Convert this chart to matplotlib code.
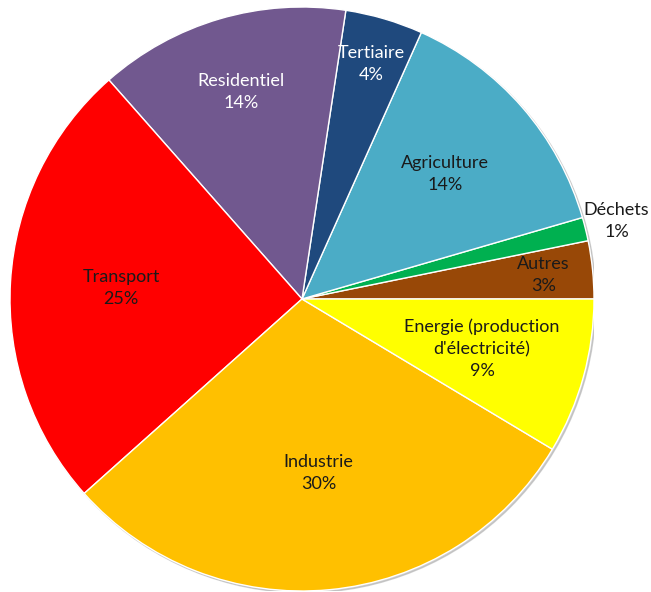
import matplotlib
matplotlib.use("Agg")
import matplotlib.pyplot as plt
import numpy as np

# Sectors, counter-clockwise from 3 o'clock
SECTORS = ["Autres", "Déchets", "Agriculture", "Tertiaire", "Residentiel",
           "Transport", "Industrie", "Energie (production\nd'électricité)"]
SHARES = [3.2, 1.3, 13.8, 4.3, 13.9, 25.1, 29.8, 8.6]
COLORS = ["#984807", "#00B050", "#4BACC6", "#1F497D", "#71588F",
          "#FF0000", "#FFC000", "#FFFF00"]
LABEL_COLORS = ["#1a1a1a", "#1a1a1a", "#1a1a1a", "white", "white",
                "#1a1a1a", "#1a1a1a", "#1a1a1a"]
LABEL_DIST = [0.83, 1.11, 0.65, 0.84, 0.74, 0.62, 0.60, 0.64]

plt.rcParams["font.family"] = ["Lato", "DejaVu Sans"]

W, H = 651, 592
fig = plt.figure(figsize=(W / 100, H / 100), dpi=100)
fig.patch.set_facecolor("white")
# pie centre ~ (302, 299) px, radius ~ 292 px
cx, cy, r = 302, 299, 292
ax = fig.add_axes([(cx - r) / W, (H - cy - r) / H, 2 * r / W, 2 * r / H])

# soft grey shadow behind the disc
ax.add_patch(plt.Circle((0.006, -0.006), 1.0, color="#b0b0b0", alpha=0.6, zorder=0))

wedges, _ = ax.pie(SHARES, colors=COLORS, startangle=0, counterclock=True,
                   wedgeprops=dict(edgecolor="white", linewidth=1.0, zorder=1))
ax.set_xlim(-1, 1)
ax.set_ylim(-1, 1)
ax.set_aspect("equal")

for w, name, share, col, d in zip(wedges, SECTORS, SHARES, LABEL_COLORS, LABEL_DIST):
    ang = np.deg2rad((w.theta1 + w.theta2) / 2)
    ax.text(d * np.cos(ang), d * np.sin(ang), f"{name}\n{share:.0f}%",
            ha="center", va="center", fontsize=13, color=col,
            linespacing=1.45, clip_on=False)

fig.savefig("out.png", dpi=100, facecolor="white")
